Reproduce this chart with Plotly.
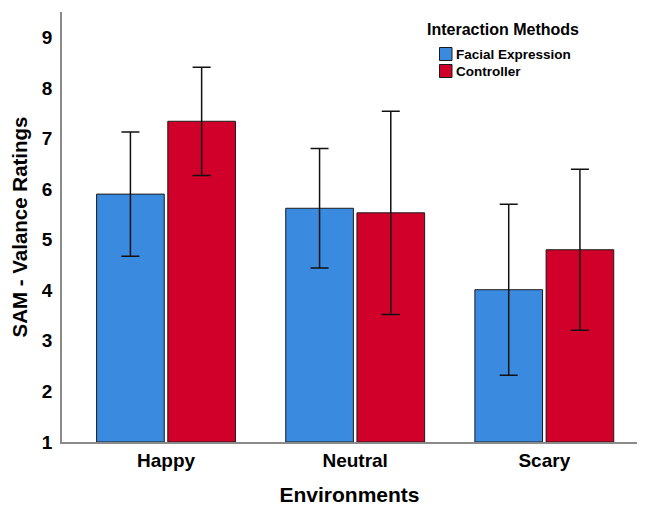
import plotly.graph_objects as go

# SAM valence ratings by environment and interaction method
environments = ["Happy", "Neutral", "Scary"]
facial_mean = [5.90, 5.62, 4.01]
facial_err = [1.23, 1.18, 1.69]
controller_mean = [7.34, 5.53, 4.80]
controller_err = [1.07, 2.01, 1.59]
y_ticks = [1, 2, 3, 4, 5, 6, 7, 8, 9]
legend_title = "Interaction Methods"

FONT = "Liberation Sans, Arial, Helvetica, sans-serif"
BLUE = "#3A8BE0"
RED = "#D1002A"
OUTLINE = "#1a1a1a"

W, H = 646, 508
ML, MR, MT, MB = 62, 9, 12, 66
PW, PH = W - ML - MR, H - MT - MB


def px_x(x):
    """Canvas pixel x -> paper fraction."""
    return (x - ML) / PW


def px_y(y):
    """Canvas pixel y (from top) -> paper fraction."""
    return 1 - (y - MT) / PH


series = [
    ("Facial Expression", facial_mean, facial_err, BLUE),
    ("Controller", controller_mean, controller_err, RED),
]

fig = go.Figure()
for name, means, errs, color in series:
    fig.add_trace(go.Bar(
        name=name,
        x=environments,
        y=[m - 1 for m in means],
        base=1,
        marker=dict(color=color, line=dict(color=OUTLINE, width=1)),
        error_y=dict(type="data", array=errs, color="#111111",
                     thickness=1.5, width=9),
        hoverinfo="skip",
        showlegend=False,
    ))

# Legend block drawn as text + swatches at the top right
annotations = [dict(
    text=legend_title, xref="paper", yref="paper",
    x=px_x(425), y=px_y(30), xanchor="left", yanchor="middle",
    showarrow=False, font=dict(size=16, family=FONT, weight="bold"),
)]
shapes = []
for i, (name, _, _, color) in enumerate(series):
    cy = 54 + i * 17
    shapes.append(dict(
        type="rect", xref="paper", yref="paper",
        x0=px_x(439.5), x1=px_x(452), y0=px_y(cy - 6.5), y1=px_y(cy + 6.5),
        fillcolor=color, line=dict(color=OUTLINE, width=1),
    ))
    annotations.append(dict(
        text=name, xref="paper", yref="paper",
        x=px_x(454), y=px_y(cy), xanchor="left", yanchor="middle",
        showarrow=False, font=dict(size=13.5, family=FONT, weight="bold"),
    ))

fig.update_layout(
    width=W, height=H,
    margin=dict(l=ML, r=MR, t=MT, b=MB, autoexpand=False),
    paper_bgcolor="white",
    plot_bgcolor="white",
    barmode="group",
    bargap=0.247,
    bargroupgap=0.05,
    font=dict(family=FONT, color="black"),
    showlegend=False,
    annotations=annotations,
    shapes=shapes,
    xaxis=dict(
        range=[-0.55, 2.49],
        showline=True, linecolor="#8a8a8a", linewidth=1.5,
        ticks="", showgrid=False,
        tickfont=dict(size=19, family=FONT, weight="bold"),
        title=dict(text="Environments", standoff=18,
                   font=dict(size=21, family=FONT, weight="bold")),
    ),
    yaxis=dict(
        range=[1, 9.5],
        tickvals=y_ticks,
        showline=True, linecolor="#8a8a8a", linewidth=1.5,
        ticks="", showgrid=False, zeroline=False,
        ticklabelstandoff=4,
        tickfont=dict(size=19, family=FONT, weight="bold"),
        title=dict(text="SAM - Valance Ratings", standoff=9,
                   font=dict(size=20.5, family=FONT, weight="bold")),
    ),
)

fig.write_html("out.html")
